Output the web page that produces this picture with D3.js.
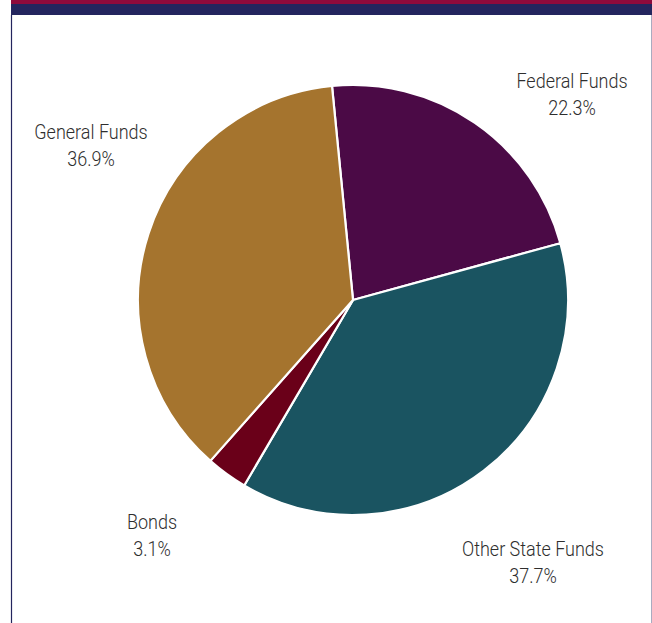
<!DOCTYPE html>
<html>
<head>
<meta charset="utf-8">
<script src="https://cdn.jsdelivr.net/npm/d3@7/dist/d3.min.js"></script>
<style>
  html, body { margin: 0; padding: 0; background: #fff; }
  svg { display: block; }
  .lbl { font-family: Roboto, "Noto Sans", sans-serif; font-weight: 300; font-size: 20px; fill: #2e2e2e; }
</style>
</head>
<body>
<svg id="chart" width="652" height="623"></svg>
<script>
// Funding sources (percent of total)
const categories = ["Federal Funds", "Other State Funds", "Bonds", "General Funds"];
const shares = [22.3, 37.7, 3.1, 36.9];
const colors = ["#4b0a46", "#1a5461", "#6a0019", "#a5742e"];
// Label anchor points (center x, first-line baseline)
const labelPos = [[572, 88], [533, 556], [152, 529], [91, 139]];

const W = 652, H = 623;
const svg = d3.select("#chart");

// Header bands and frame
svg.append("rect").attr("x", 11).attr("y", 0).attr("width", W - 11).attr("height", 4).attr("fill", "#8e0a3c");
svg.append("rect").attr("x", 11).attr("y", 4).attr("width", W - 11).attr("height", 11).attr("fill", "#23255e");
svg.append("line").attr("x1", 11.5).attr("x2", 11.5).attr("y1", 15).attr("y2", H).attr("stroke", "#23255e").attr("stroke-width", 1.2);
svg.append("line").attr("x1", 651.5).attr("x2", 651.5).attr("y1", 15).attr("y2", H).attr("stroke", "#a9abc0").attr("stroke-width", 1);

const cx = 353, cy = 300, r = 215;
const start = -5.6 * Math.PI / 180;

const pie = d3.pie().sort(null).value(d => d)
  .startAngle(start).endAngle(start + 2 * Math.PI);
const arc = d3.arc().innerRadius(0).outerRadius(r);

const g = svg.append("g").attr("transform", `translate(${cx},${cy})`);
g.selectAll("path")
  .data(pie(shares))
  .join("path")
  .attr("d", arc)
  .attr("fill", (d, i) => colors[i])
  .attr("stroke", "#fff")
  .attr("stroke-width", 2.2)
  .attr("stroke-linejoin", "round");

// Labels use a horizontally condensed face
const fmt = d3.format(".1f");
const sx = 0.9;
categories.forEach((c, i) => {
  const [lx, ly] = labelPos[i];
  const t = svg.append("text").attr("class", "lbl").attr("text-anchor", "middle")
    .attr("transform", `translate(${lx},${ly}) scale(${sx},1)`);
  t.append("tspan").attr("x", 0).attr("y", 0).text(c);
  t.append("tspan").attr("x", 0).attr("dy", 27.5).text(fmt(shares[i]) + "%");
});
</script>
</body>
</html>
